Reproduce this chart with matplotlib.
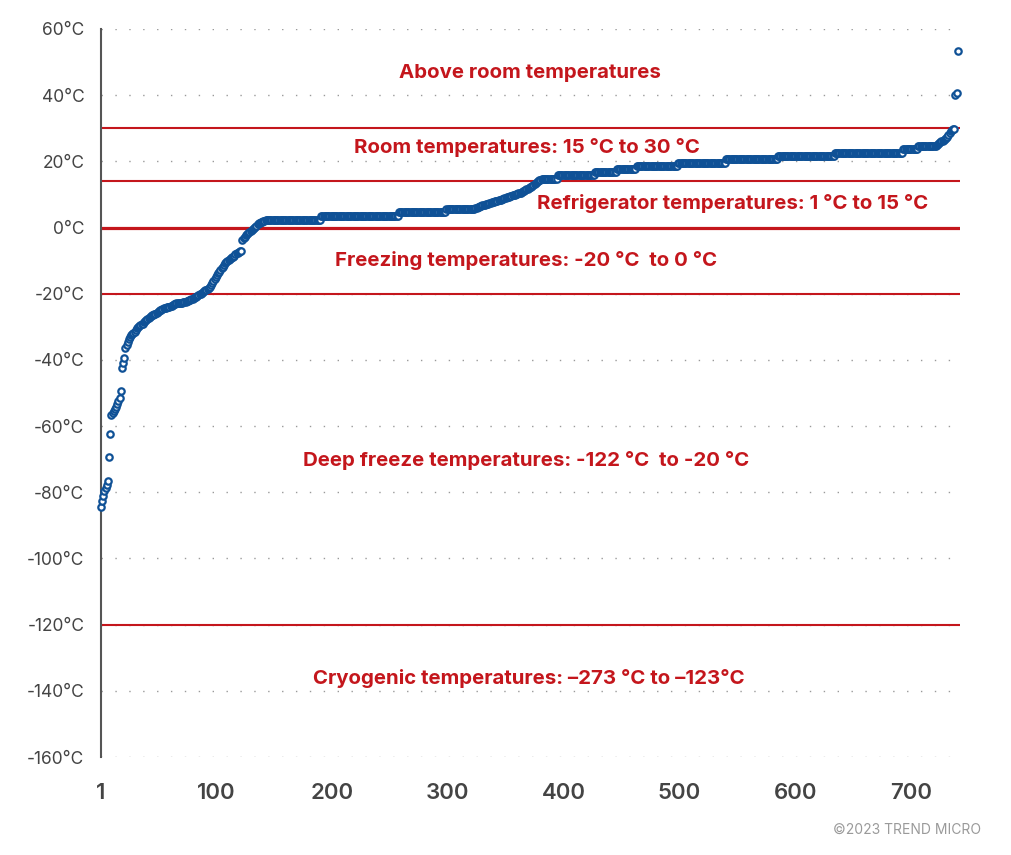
import numpy as np
import matplotlib
matplotlib.use("Agg")
import matplotlib.pyplot as plt

# sorted temperature readings (deg C)
low_rise = [
    -84.4, -82.7, -81.1, -79.6, -78.6, -77.9, -76.6, -69.4, -62.5, -56.6,
    -56.1, -55.5, -54.9, -54.3, -53.3, -52.4, -51.6, -49.4, -42.5, -41.0,
    -39.5, -36.5, -35.5, -34.5, -33.8, -33.2, -32.6, -32.2, -31.8, -31.5,
    -31.0, -30.5, -30.2, -29.8, -29.5, -29.2, -29.0, -28.6, -28.3, -27.9,
    -27.5, -27.2, -26.9, -26.7, -26.5, -26.3, -26.1, -26.0, -25.9, -25.6,
    -25.3, -25.0, -24.8, -24.6, -24.4, -24.3, -24.2, -24.1, -24.0, -23.9,
    -23.8, -23.6, -23.4, -23.2, -23.0, -22.9, -22.9, -22.8, -22.8, -22.7,
    -22.7, -22.6, -22.5, -22.4, -22.3, -22.2, -22.0, -21.9, -21.7, -21.5,
    -21.3, -21.1, -20.9, -20.6, -20.4, -20.2, -20.0, -19.8, -19.6, -19.3,
    -19.0, -18.8, -18.6, -18.4, -17.9, -17.4, -16.9, -16.3, -15.6, -15.0,
    -14.4, -13.8, -13.3, -12.8, -12.3, -11.8, -11.3, -10.8, -10.5, -10.1,
    -9.8, -9.5, -9.3, -9.0, -8.8, -8.5, -8.1, -7.8, -7.6, -7.4,
    -7.2, -7.1, -3.8, -3.3, -2.8, -2.4, -2.0, -1.7, -1.3, -1.0,
    -0.7, -0.4, 0.0, 0.3, 0.6, 1.0, 1.3, 1.5, 1.6, 1.8,
    1.9, 2.1,
]
low_levels = [2.4, 3.6, 4.6, 5.6]
low_counts = [48, 67, 41, 25]
mid_rise = [
    5.9, 6.0, 6.2, 6.3, 6.5,
    6.6, 6.7, 6.8, 6.9, 7.0, 7.1,
    7.2, 7.3, 7.5, 7.6, 7.7, 7.8,
    7.9, 8.0, 8.1, 8.2, 8.3, 8.4,
    8.6, 8.7, 8.8, 9.0, 9.1,
    9.2, 9.3, 9.4, 9.5, 9.7, 9.8,
    9.9, 10.0, 10.1, 10.3, 10.4, 10.5,
    10.7, 10.9, 11.1, 11.3,
    11.5, 11.7, 11.9, 12.1, 12.3,
    12.6, 12.9, 13.2, 13.5, 13.9,
    14.1, 14.3, 14.5, 14.6,
]
high_levels = [14.8, 15.9, 16.7, 17.6, 18.6, 19.6, 20.6, 21.7, 22.6, 23.6, 24.6]
high_counts = [13, 32, 19, 17, 36, 41, 45, 49, 59, 13, 16]
top_rise = [24.9, 25.1, 25.4, 25.8, 26.0, 26.3, 26.5, 26.8, 27.0, 27.5,
            28.0, 28.5, 29.3, 29.5, 29.7, 29.7, 40.1, 40.8, 53.4]

# temperature bands
band_lines = [30, 14, 0, -20, -120]
band_widths = [1.5, 1.5, 2.3, 1.5, 1.5]
band_labels = [
    "Above room temperatures",
    "Room temperatures: 15 °C to 30 °C",
    "Refrigerator temperatures: 1 °C to 15 °C",
    "Freezing temperatures: -20 °C  to 0 °C",
    "Deep freeze temperatures: -122 °C  to -20 °C",
    "Cryogenic temperatures: –273 °C to –123°C",
]
label_x = [371, 368, 546, 368, 368, 370]
label_y = [46.7, 24.3, 7.4, -10.1, -70.3, -136.4]

y_ticks = list(range(-160, 61, 20))
x_ticks = [1, 100, 200, 300, 400, 500, 600, 700]

temps = np.concatenate([
    low_rise,
    np.repeat(low_levels, low_counts),
    mid_rise,
    np.repeat(high_levels, high_counts),
    top_rise,
])
rank = np.arange(1, len(temps) + 1)

RED = "#c4161c"
BLUE = "#0f5196"

plt.rcParams["font.family"] = ["Inter", "DejaVu Sans"]

fig = plt.figure(figsize=(10.11, 8.55), dpi=100)
ax = fig.add_axes([0.0999, 0.1146, 0.8497, 0.8515])

ax.set_xlim(1, 742)
ax.set_ylim(-160, 60)

# dotted grid
for t in y_ticks:
    ax.axhline(t, color="#9a9a9a", lw=1.0, ls=(0, (1, 9)), zorder=1)

for v, w in zip(band_lines, band_widths):
    ax.axhline(v, color=RED, lw=w, zorder=2)

ax.plot(rank, temps, ls="none", marker="o", ms=4.6, mfc="white",
        mec=BLUE, mew=1.6, zorder=3, clip_on=False)

for txt, x, y in zip(band_labels, label_x, label_y):
    ax.text(x, y, txt, color=RED, fontsize=14.7, fontweight="bold",
            ha="center", va="center", zorder=4)

ax.set_yticks(y_ticks)
ax.set_yticklabels([f"{t}°C" for t in y_ticks])
ax.set_xticks(x_ticks)
ax.set_xticklabels([str(t) for t in x_ticks])
ax.tick_params(axis="y", length=0, pad=12, labelsize=12.5, labelcolor="#444444")
ax.tick_params(axis="x", length=0, pad=19, labelsize=16, labelcolor="#444444")
for lab in ax.get_xticklabels():
    lab.set_fontweight("semibold")

for side in ["top", "right", "bottom"]:
    ax.spines[side].set_visible(False)
ax.spines["left"].set_color("#555555")
ax.spines["left"].set_linewidth(1.5)

fig.text(0.97, 0.029, "©2023 TREND MICRO", color="#9a9a9a", fontsize=10,
         ha="right", va="center")

fig.savefig("out.png", dpi=100)
